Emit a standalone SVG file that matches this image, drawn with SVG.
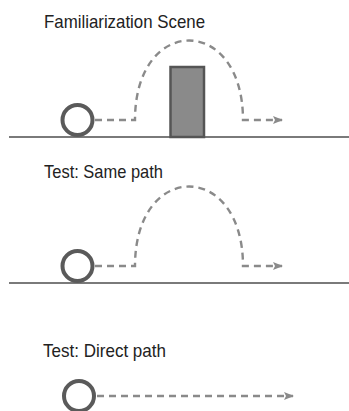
<svg xmlns="http://www.w3.org/2000/svg" width="349" height="411" viewBox="0 0 349 411">
<style>
.label{font-family:"Liberation Sans",Arial,sans-serif;font-size:19px;fill:#222}
.ground{stroke:#7a7a7a;stroke-width:2;fill:none}
.ball{stroke:#5a5a5a;stroke-width:4;fill:#fff}
.path{stroke:#8a8a8a;stroke-width:2.4;fill:none;stroke-dasharray:7 5;marker-end:url(#arr)}
.block{fill:#8a8a8a;stroke:#555;stroke-width:2.5}
</style>
<defs>
<marker id="arr" viewBox="0 0 10 8" refX="9" refY="4" markerWidth="10" markerHeight="8" markerUnits="userSpaceOnUse" orient="auto">
<path d="M0,0 L10,4 L0,8 L2,4 Z" fill="#8a8a8a"/>
</marker>
</defs>
<g id="scene1">
<text class="label" x="44" y="28" textLength="161" lengthAdjust="spacingAndGlyphs">Familiarization Scene</text>
<line class="ground" x1="9" y1="137" x2="349" y2="137"/>
<rect id="block" class="block" x="170.5" y="67" width="33.5" height="70"/>
<circle id="ball1" class="ball" cx="77.5" cy="120" r="15"/>
</g>
<g id="scene2">
<text class="label" x="44" y="178" textLength="119" lengthAdjust="spacingAndGlyphs">Test: Same path</text>
<line class="ground" x1="9" y1="283" x2="349" y2="283"/>
<circle id="ball2" class="ball" cx="77.5" cy="266" r="15"/>
</g>
<g id="scene3">
<text class="label" x="43" y="357" textLength="123" lengthAdjust="spacingAndGlyphs">Test: Direct path</text>
<circle id="ball3" class="ball" cx="79" cy="396" r="15"/>
</g>
<g id="connectors">
<path class="path" d="M95,120 H135 C135,14 243,14 243,120 H282"/>
<path class="path" d="M95,266 H135 C135,160 243,160 243,266 H282"/>
<path class="path" d="M97,396 H293"/>
</g>
</svg>
